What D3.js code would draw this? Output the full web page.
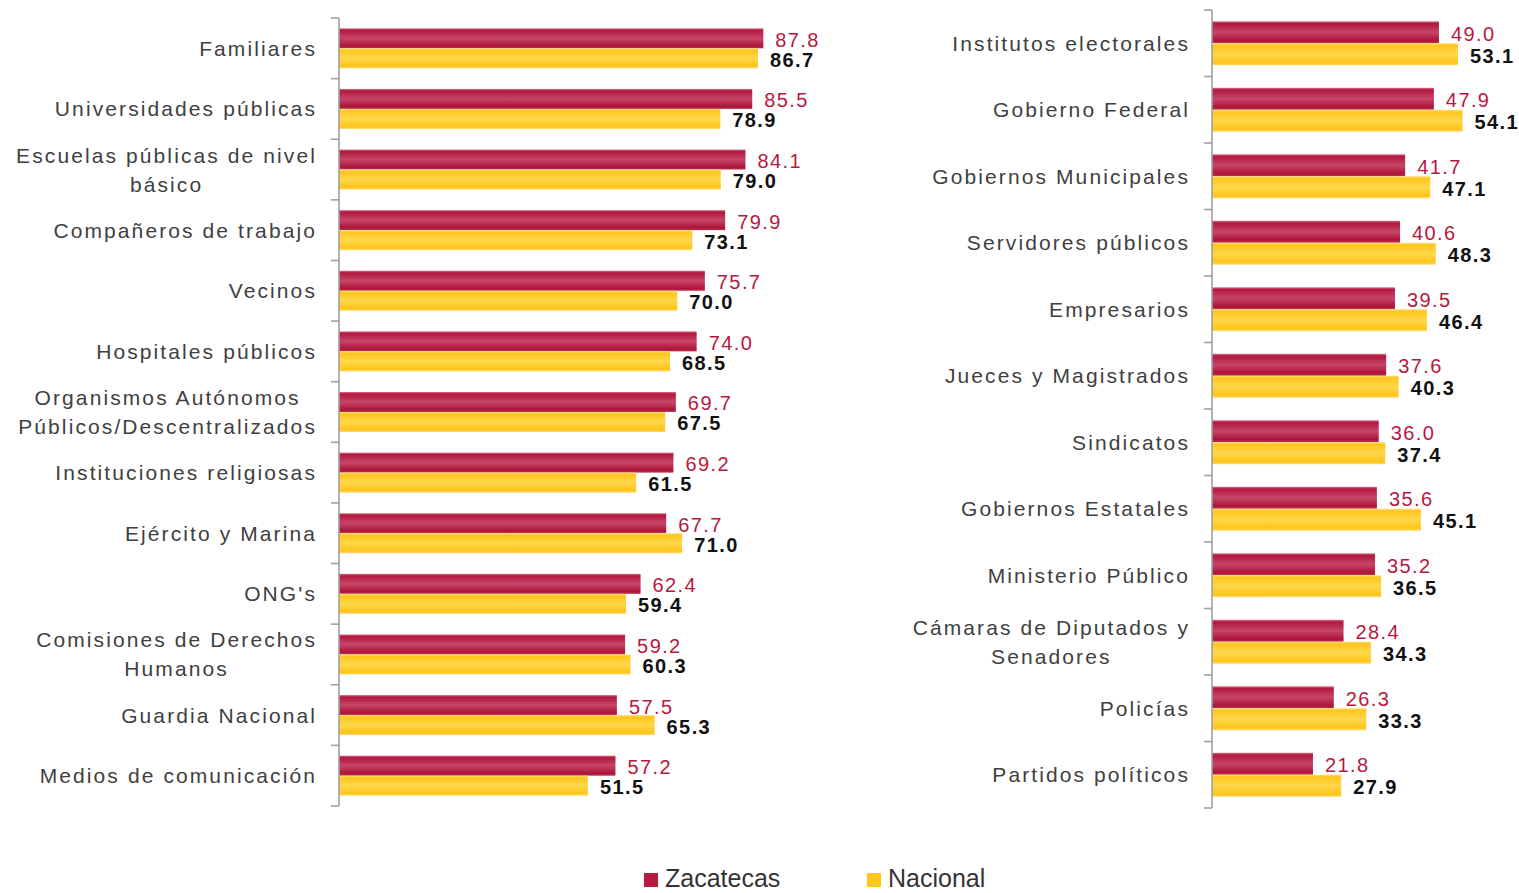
<!DOCTYPE html>
<html lang="es">
<head>
<meta charset="utf-8">
<title>Confianza en instituciones: Zacatecas y Nacional</title>
<script src="https://cdn.jsdelivr.net/npm/d3@7"></script>
<style>
  html, body { margin: 0; padding: 0; background: #ffffff; }
  svg { display: block; }
</style>
</head>
<body>
<svg id="chart" width="1519" height="893"></svg>
<script>
// Series names
const seriesNames = ["Zacatecas", "Nacional"];

// Left panel: categories ("\n" marks a line break in the label)
const leftCategories = [
  "Familiares",
  "Universidades públicas",
  "Escuelas públicas de nivel\nbásico",
  "Compañeros de trabajo",
  "Vecinos",
  "Hospitales públicos",
  "Organismos Autónomos\nPúblicos/Descentralizados",
  "Instituciones religiosas",
  "Ejército y Marina",
  "ONG's",
  "Comisiones de Derechos\nHumanos",
  "Guardia Nacional",
  "Medios de comunicación"
];
const leftZacatecas = [87.8, 85.5, 84.1, 79.9, 75.7, 74.0, 69.7, 69.2, 67.7, 62.4, 59.2, 57.5, 57.2];
const leftNacional  = [86.7, 78.9, 79.0, 73.1, 70.0, 68.5, 67.5, 61.5, 71.0, 59.4, 60.3, 65.3, 51.5];

// Right panel
const rightCategories = [
  "Institutos electorales",
  "Gobierno Federal",
  "Gobiernos Municipales",
  "Servidores públicos",
  "Empresarios",
  "Jueces y Magistrados",
  "Sindicatos",
  "Gobiernos Estatales",
  "Ministerio Público",
  "Cámaras de Diputados y\nSenadores",
  "Policías",
  "Partidos políticos"
];
const rightZacatecas = [49.0, 47.9, 41.7, 40.6, 39.5, 37.6, 36.0, 35.6, 35.2, 28.4, 26.3, 21.8];
const rightNacional  = [53.1, 54.1, 47.1, 48.3, 46.4, 40.3, 37.4, 45.1, 36.5, 34.3, 33.3, 27.9];

const svg = d3.select("#chart");
const defs = svg.append("defs");

// Glossy bar fills
function addGradient(id, stops) {
  const g = defs.append("linearGradient")
    .attr("id", id).attr("x1", 0).attr("y1", 0).attr("x2", 0).attr("y2", 1);
  stops.forEach(([o, c]) => g.append("stop").attr("offset", o).attr("stop-color", c));
}
addGradient("gradRed", [
  [0, "#d77088"], [0.1, "#b3173e"], [0.5, "#c54669"], [0.88, "#ad1438"], [1, "#b83552"]
]);
addGradient("gradYellow", [
  [0, "#ffe07a"], [0.1, "#ffc51c"], [0.5, "#ffd84c"], [0.88, "#ffc418"], [1, "#ffd86a"]
]);

const fills = { Zacatecas: "url(#gradRed)", Nacional: "url(#gradYellow)" };
const legendColors = { Zacatecas: "#b8193f", Nacional: "#ffc81e" };
const labelStyles = {
  Zacatecas: { fill: "#b8173e", weight: "normal" },
  Nacional: { fill: "#111111", weight: "bold" }
};

function drawPanel(cfg) {
  const g = svg.append("g");
  const x = d3.scaleLinear().domain([0, cfg.max]).range([cfg.x0, cfg.x0 + cfg.pxPerUnit * cfg.max]);
  const y = d3.scaleBand().domain(cfg.categories).range([cfg.y0, cfg.y1]).paddingInner(0).paddingOuter(0);
  const groupH = y.bandwidth() * 0.66;
  const ys = d3.scaleBand().domain(seriesNames).range([0, groupH]);
  const offset = (y.bandwidth() - groupH) / 2;

  const rows = cfg.categories.map((c, i) => ({
    cat: c,
    values: [
      { key: "Zacatecas", v: cfg.zac[i] },
      { key: "Nacional", v: cfg.nac[i] }
    ]
  }));

  // Bars
  const rowG = g.selectAll("g.row").data(rows).join("g")
    .attr("class", "row")
    .attr("transform", d => `translate(0,${y(d.cat) + offset})`);

  rowG.selectAll("rect").data(d => d.values).join("rect")
    .attr("x", x(0))
    .attr("y", d => ys(d.key))
    .attr("width", d => x(d.v) - x(0))
    .attr("height", ys.bandwidth())
    .attr("fill", d => fills[d.key]);

  // Value labels
  rowG.selectAll("text.val").data(d => d.values).join("text")
    .attr("class", "val")
    .attr("x", d => x(d.v) + 12)
    .attr("y", d => ys(d.key) + ys.bandwidth() / 2 + 1.5)
    .attr("dominant-baseline", "central")
    .attr("font-family", "'Liberation Sans', Arial, sans-serif")
    .attr("font-size", 20)
    .attr("letter-spacing", 1.4)
    .attr("font-weight", d => labelStyles[d.key].weight)
    .attr("fill", d => labelStyles[d.key].fill)
    .text(d => d.v.toFixed(1));

  // Axis line and ticks at band boundaries
  const axisG = g.append("g").attr("stroke", "#a0a0a0").attr("stroke-width", 1.6);
  axisG.append("line")
    .attr("x1", x(0)).attr("x2", x(0))
    .attr("y1", cfg.y0).attr("y2", cfg.y1);
  const bounds = cfg.categories.map(c => y(c)).concat([cfg.y1]);
  axisG.selectAll("line.tick").data(bounds).join("line")
    .attr("class", "tick")
    .attr("x1", x(0) - 8).attr("x2", x(0))
    .attr("y1", d => d).attr("y2", d => d);

  // Category labels
  const labelRight = x(0) - 22;
  rows.forEach(r => {
    const lines = r.cat.split("\n");
    const cy = y(r.cat) + y.bandwidth() / 2;
    const t = g.append("text")
      .attr("font-family", "'Liberation Sans', Arial, sans-serif")
      .attr("font-size", 21)
      .attr("letter-spacing", 2.1)
      .attr("fill", "#404040");
    const lineH = 29;
    const spans = lines.map((ln, i) =>
      t.append("tspan")
        .attr("y", cy + (i - (lines.length - 1) / 2) * lineH)
        .attr("dominant-baseline", "central")
        .text(ln)
    );
    if (lines.length === 1) {
      t.attr("text-anchor", "end");
      spans[0].attr("x", labelRight);
    } else {
      const maxW = d3.max(spans, s => s.node().getComputedTextLength());
      t.attr("text-anchor", "middle");
      spans.forEach(s => s.attr("x", labelRight - maxW / 2));
    }
  });
}

drawPanel({
  categories: leftCategories, zac: leftZacatecas, nac: leftNacional,
  x0: 339, y0: 18, y1: 806, max: 100, pxPerUnit: 4.833
});
drawPanel({
  categories: rightCategories, zac: rightZacatecas, nac: rightNacional,
  x0: 1212, y0: 10, y1: 808, max: 60, pxPerUnit: 4.632
});

// Legend
const legend = svg.append("g");
const legendItems = [
  { key: "Zacatecas", x: 644 },
  { key: "Nacional", x: 867 }
];
const li = legend.selectAll("g").data(legendItems).join("g")
  .attr("transform", d => `translate(${d.x},0)`);
li.append("rect")
  .attr("x", 0).attr("y", 873).attr("width", 14).attr("height", 14)
  .attr("fill", d => legendColors[d.key]);
li.append("text")
  .attr("x", 21).attr("y", 887)
  .attr("font-family", "'Liberation Sans', Arial, sans-serif")
  .attr("font-size", 25)
  .attr("fill", "#333333")
  .text(d => d.key);
</script>
</body>
</html>
